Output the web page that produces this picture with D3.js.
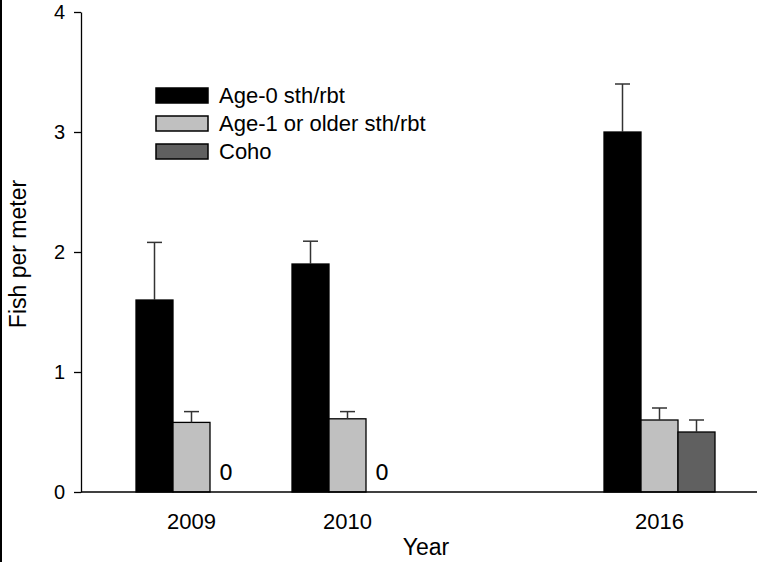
<!DOCTYPE html>
<html>
<head>
    <script src="https://d3js.org/d3.v7.min.js"></script>
    <style>
        body { margin: 0; background: #fff; }
        text { font-family: "Liberation Sans", Arial, sans-serif; fill: #000; }
    </style>
</head>
<body>
    <div id="chart"></div>
    <script>
        // data
        var years = ["2009", "2010", "2016"];
        var slots = ["2009", "2010", "gap", "2016"]; // empty slot between 2010 and 2016
        var series = ["Age-0 sth/rbt", "Age-1 or older sth/rbt", "Coho"];
        var age0 = [1.6, 1.9, 3.0];
        var age0Err = [0.48, 0.19, 0.4];
        var age1 = [0.58, 0.61, 0.6];
        var age1Err = [0.09, 0.06, 0.1];
        var coho = [0, 0, 0.5];
        var cohoErr = [0, 0, 0.1];
        var yTicks = [0, 1, 2, 3, 4];
        var colors = ["#000000", "#c0c0c0", "#606060"];

        var width = 757, height = 562;
        var marginLeft = 81, plotTop = 12, plotBottom = 492;

        var svg = d3.select("#chart")
            .append("svg")
            .attr("width", width)
            .attr("height", height);

        // thin black edge on the left of the original figure
        svg.append("rect")
            .attr("x", 0).attr("y", 0)
            .attr("width", 2).attr("height", height)
            .attr("fill", "#000");

        var y = d3.scaleLinear().domain([0, 4]).range([plotBottom, plotTop]);

        var x = d3.scaleBand()
            .domain(slots)
            .range([113.5, 737.5])
            .padding(0);

        var inner = d3.scaleBand()
            .domain(series)
            .range([-55.5, 55.5])
            .padding(0);

        var values = [age0, age1, coho];
        var errs = [age0Err, age1Err, cohoErr];

        var rows = [];
        years.forEach(function (yr, i) {
            series.forEach(function (s, j) {
                rows.push({ year: yr, key: s, idx: j, value: values[j][i], err: errs[j][i] });
            });
        });

        function cx(d) {
            return x(d.year) + x.bandwidth() / 2 + inner(d.key);
        }

        // bars
        svg.selectAll(".bar")
            .data(rows.filter(function (d) { return d.value > 0; }))
            .enter()
            .append("rect")
            .attr("class", "bar")
            .attr("x", cx)
            .attr("y", function (d) { return y(d.value); })
            .attr("width", inner.bandwidth())
            .attr("height", function (d) { return y(0) - y(d.value); })
            .attr("fill", function (d) { return colors[d.idx]; })
            .attr("stroke", "#000")
            .attr("stroke-width", 1.3);

        // error bars (upper only)
        var eb = svg.selectAll(".err")
            .data(rows.filter(function (d) { return d.err > 0; }))
            .enter()
            .append("g")
            .attr("class", "err")
            .attr("stroke", "#333")
            .attr("stroke-width", 1.5);

        eb.append("line")
            .attr("x1", function (d) { return cx(d) + inner.bandwidth() / 2; })
            .attr("x2", function (d) { return cx(d) + inner.bandwidth() / 2; })
            .attr("y1", function (d) { return y(d.value); })
            .attr("y2", function (d) { return y(d.value + d.err); });

        eb.append("line")
            .attr("x1", function (d) { return cx(d) + inner.bandwidth() / 2 - 7.5; })
            .attr("x2", function (d) { return cx(d) + inner.bandwidth() / 2 + 7.5; })
            .attr("y1", function (d) { return y(d.value + d.err); })
            .attr("y2", function (d) { return y(d.value + d.err); });

        // "0" labels where coho was absent
        svg.selectAll(".zero")
            .data(rows.filter(function (d) { return d.key === "Coho" && d.value === 0; }))
            .enter()
            .append("text")
            .attr("class", "zero")
            .attr("x", function (d) { return cx(d) + inner.bandwidth() / 2 - 2.5; })
            .attr("y", y(0) - 12)
            .attr("text-anchor", "middle")
            .style("font-family", "'DejaVu Sans', sans-serif")
            .style("font-size", "22px")
            .text("0");

        // y axis
        var yAxis = svg.append("g")
            .attr("transform", "translate(" + marginLeft + ",0)")
            .call(d3.axisLeft(y).tickValues(yTicks).tickFormat(d3.format("d"))
                .tickSize(7).tickSizeOuter(0).tickPadding(9));
        yAxis.selectAll("text").style("font-size", "20px");
        yAxis.selectAll("line, path").attr("stroke", "#000").attr("stroke-width", 1.3);

        // x axis
        var xAxis = svg.append("g")
            .attr("transform", "translate(0," + plotBottom + ")")
            .call(d3.axisBottom(x).tickValues(years).tickSize(0).tickPadding(21));
        xAxis.select(".domain").remove();
        xAxis.selectAll("text").style("font-size", "22px");
        svg.append("line")
            .attr("x1", marginLeft).attr("x2", width)
            .attr("y1", plotBottom).attr("y2", plotBottom)
            .attr("stroke", "#000").attr("stroke-width", 1.3);

        // axis titles
        svg.append("text")
            .attr("x", 426)
            .attr("y", 555)
            .attr("text-anchor", "middle")
            .style("font-size", "23px")
            .text("Year");

        svg.append("text")
            .attr("transform", "translate(26,254) rotate(-90)")
            .attr("text-anchor", "middle")
            .style("font-size", "23px")
            .text("Fish per meter");

        // legend
        var legend = svg.selectAll(".legend")
            .data(series)
            .enter()
            .append("g")
            .attr("class", "legend")
            .attr("transform", function (d, i) { return "translate(156," + (88 + i * 28) + ")"; });

        legend.append("rect")
            .attr("width", 52)
            .attr("height", 15)
            .attr("fill", function (d, i) { return colors[i]; })
            .attr("stroke", "#000")
            .attr("stroke-width", 1.5);

        legend.append("text")
            .attr("x", 63)
            .attr("y", 15)
            .style("font-size", "22px")
            .text(function (d) { return d; });
    </script>
</body>
</html>
